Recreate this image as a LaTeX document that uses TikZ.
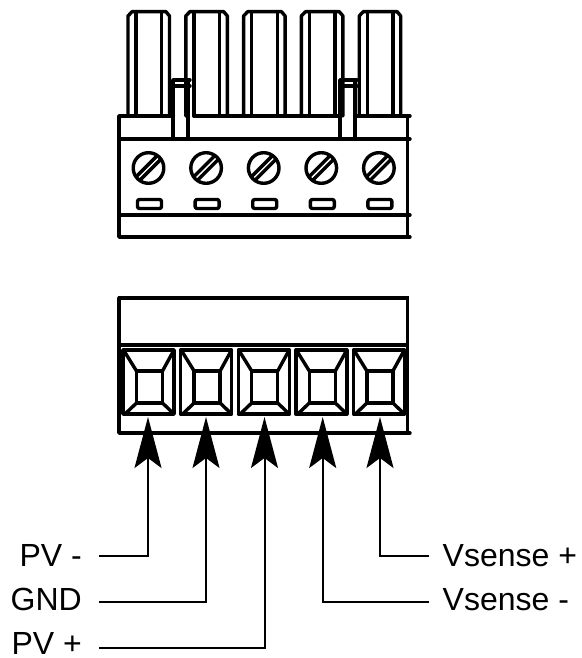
\documentclass[tikz,border=0pt]{standalone}
\usepackage{fontspec}
\setmainfont{Liberation Sans}
\usetikzlibrary{arrows.meta}
\tikzset{
  body/.style={line width=3.4pt,line cap=round,line join=round},
  heavy/.style={line width=4.8pt,line cap=butt},
  wire/.style={line width=2pt,-{Stealth[length=51pt,width=27pt,inset=10pt]}},
  lab/.style={font=\fontsize{32}{36}\selectfont,inner sep=0pt}
}
\begin{document}
\begin{tikzpicture}[x=1pt,y=-1pt]
\useasboundingbox (0,0) rectangle (581,658);
% --- upper connector: pins
\foreach \i in {0,...,4}{
  \begin{scope}[shift={({\i*57.8},0)}]
    \draw[body] (128,116) -- (128,16) -- (132,11.7) -- (166,11.7) -- (169.5,16) -- (169.5,116);
    \draw[body] (136,12) -- (136,116);
    \draw[body] (161.7,12) -- (161.7,116);
  \end{scope}
}
% --- upper connector: body
\draw[body] (173,116) -- (119,116) -- (119,237) -- (410,237);
\draw[body] (194,116) -- (340,116);
\draw[body] (355,116) -- (410,116);
\draw[body] (407.7,116) -- (407.7,237);
\draw[body] (119,139) -- (410,139);
\draw[body] (119,215) -- (410,215);
% --- upper connector: tabs
\draw[body] (173,139) -- (173,80) -- (190,80);
\draw[body] (173,86) -- (190,86);
\draw[body] (188,80) -- (188,139);
\draw[body] (340,139) -- (340,80) -- (357,80);
\draw[body] (340,86) -- (357,86);
\draw[body] (355,80) -- (355,139);
% --- upper connector: screws and slots
\foreach \i in {0,...,4}{
  \begin{scope}[shift={({\i*57.6},0)}]
    \draw[body] (148.5,168) circle (15.3);
    \draw[body,line cap=butt] (136.2,176.7) -- (157.2,155.7);
    \draw[body,line cap=butt] (139.8,180.3) -- (160.8,159.3);
    \draw[body,rounded corners=2pt] (137.5,199.5) rectangle (161.5,208.5);
  \end{scope}
}
% --- lower connector: body
\draw[heavy] (118,298) -- (409,298);
\draw[body] (119,298) -- (119,433) -- (410,433);
\draw[body] (407.7,298) -- (407.7,433);
\draw[body] (119,345) -- (407,345);
% --- lower connector: cells
\foreach \i in {0,...,4}{
  \begin{scope}[shift={({\i*57.6},0)}]
    \draw[body] (123,350) rectangle (174,414);
    \draw[body] (136.5,371) rectangle (162.5,403);
    \draw[body] (123.5,350) -- (136.5,371);
    \draw[body] (174,350) -- (162.5,371);
    \draw[body] (125,414) -- (136.5,403);
    \draw[body] (174,414) -- (162.5,403);
  \end{scope}
}
% --- labels
\node[lab,anchor=base east] (pvm) at (82,566.7) {PV -};
\node[lab,anchor=base east] (gnd) at (82,610.5) {GND};
\node[lab,anchor=base east] (pvp) at (82,654.5) {PV +};
\node[lab,anchor=base west] (vsp) at (442.5,566.7) {Vsense +};
\node[lab,anchor=base west] (vsm) at (442.5,610.5) {Vsense -};
% --- connectors
\coordinate (s1) at (99,556);
\coordinate (s2) at (99,602);
\coordinate (s3) at (99,648);
\coordinate (s4) at (429,602);
\coordinate (s5) at (429,556);
\coordinate (t1) at (148,417);
\coordinate (t2) at (206,417);
\coordinate (t3) at (264.5,417);
\coordinate (t4) at (322.7,417);
\coordinate (t5) at (380,417);
\draw[wire] (s1) -| (t1);
\draw[wire] (s2) -| (t2);
\draw[wire] (s3) -| (t3);
\draw[wire] (s4) -| (t4);
\draw[wire] (s5) -| (t5);
\end{tikzpicture}
\end{document}
